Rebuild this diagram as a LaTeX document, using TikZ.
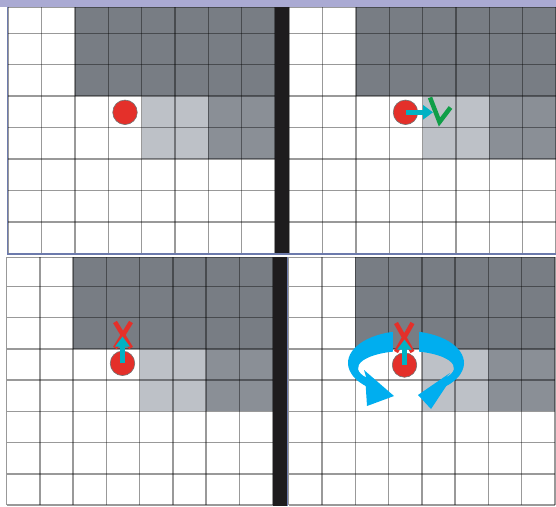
\documentclass[tikz,border=0pt]{standalone}
\usepackage{tikz}
\usetikzlibrary{calc,arrows.meta}
\definecolor{darkcell}{RGB}{120,125,132}
\definecolor{midcell}{RGB}{138,143,150}
\definecolor{lightcell}{RGB}{189,193,199}
\definecolor{stripblue}{RGB}{170,170,211}
\definecolor{edgeblue}{RGB}{108,122,172}
\definecolor{barblack}{RGB}{30,28,30}
\definecolor{robotred}{RGB}{228,48,42}
\definecolor{movecyan}{RGB}{0,178,196}
\definecolor{okgreen}{RGB}{16,158,72}
\definecolor{ringblue}{RGB}{0,174,239}
% one grid panel: left, top, bottom, cell width, cell height
\newcommand{\panel}[5]{%
  \fill[darkcell] ({#1+2*#4},#2) rectangle ({#1+8*#4},{#3-5*#5});
  \fill[lightcell] ({#1+4*#4},{#3-5*#5}) rectangle ({#1+6*#4},{#3-3*#5});
  \fill[midcell] ({#1+6*#4},{#3-5*#5}) rectangle ({#1+8*#4},{#3-3*#5});
  \foreach \i in {0,...,8} \draw[gridline] ({#1+\i*#4},#2) -- ({#1+\i*#4},#3);
  \foreach \k in {0,...,7} \draw[gridline] (#1,{#3-\k*#5}) -- ({#1+8*#4},{#3-\k*#5});
  \draw[gridline] (#1,#2) -- ({#1+8*#4},#2);}
\tikzset{gridline/.style={black,opacity=0.4,line width=1.5pt},
  robot/.style={circle,fill=robotred,draw=black!55,line width=0.6pt,inner sep=0pt,minimum size=24.5pt},
  movearrow/.style={movecyan,line width=4.5pt,-{Triangle[length=10pt,width=14pt]}},
  nomark/.style={robotred,line width=4.5pt},
  okmark/.style={okgreen,line width=4.5pt},
  turnarrow/.style={fill=ringblue}}

\begin{document}
\begin{tikzpicture}[x=1pt,y=-1pt]
        \useasboundingbox (0,0) rectangle (556,506);
        \fill[stripblue] (0,0) rectangle (556,7.3);
        \panel{8.3}{7.3}{253.3}{33.34}{31.43} \panel{289.3}{7.3}{253.3}{33.34}{31.43}
        \panel{6.7}{257.3}{505}{33.25}{31.25} \panel{288.7}{257.3}{505}{33.29}{31.25}
        \fill[barblack] (275,7.3) rectangle (288.5,253.3); \fill[barblack] (273,257.3) rectangle (286.5,506);
        \draw[edgeblue, line width=1.5pt] (7.6,7.3) -- (7.6,253.3); \draw[edgeblue, line width=1.8pt] (7,254.2) -- (556,254.2);
        \draw[edgeblue, line width=1.5pt] (287.6,257.3) -- (287.6,506);
        % robots and their moves
        \node[robot] (r1) at (125,112.3) {};
        \node[robot] (r2) at (405.5,112.3) {}; \coordinate (t2) at (433,112.3);
        \draw[movearrow] (r2.center) -- (t2); \draw[okmark] (430,97.5) -- (439.5,122) -- (450.5,107.5);
        \node[robot] (r3) at (122.5,363.3) {}; \coordinate (t3) at (122.5,336.5);
        \draw[nomark] (115,322) -- (131,348) (131,322) -- (115,348); \draw[movearrow] (r3.center) -- (t3);
        \node[robot] (r4) at (404.5,365) {}; \coordinate (t4) at (404.5,339.5);
        \draw[nomark] (396,323) -- (412.5,352) (412.5,323) -- (396,352); \draw[movearrow] (r4.center) -- (t4);
        % turning round
        \coordinate (c) at (406,363); \coordinate (ci) at (406,368);
        \fill[turnarrow] ($(c)+(257:58 and 32)$) arc[start angle=257,end angle=134,x radius=58,y radius=32] -- (367,406) -- (394,396) -- (364,370) -- ($(ci)+(146:48 and 17)$) arc[start angle=146,end angle=254,x radius=48,y radius=17] -- cycle;
        \fill[turnarrow] ($(c)+(-77:58 and 32)$) arc[start angle=-77,end angle=46,x radius=58,y radius=32] -- (431,409) -- (418,395) -- (450,373) -- ($(ci)+(34:48 and 17)$) arc[start angle=34,end angle=-74,x radius=48,y radius=17] -- cycle;
\end{tikzpicture}
\end{document}
